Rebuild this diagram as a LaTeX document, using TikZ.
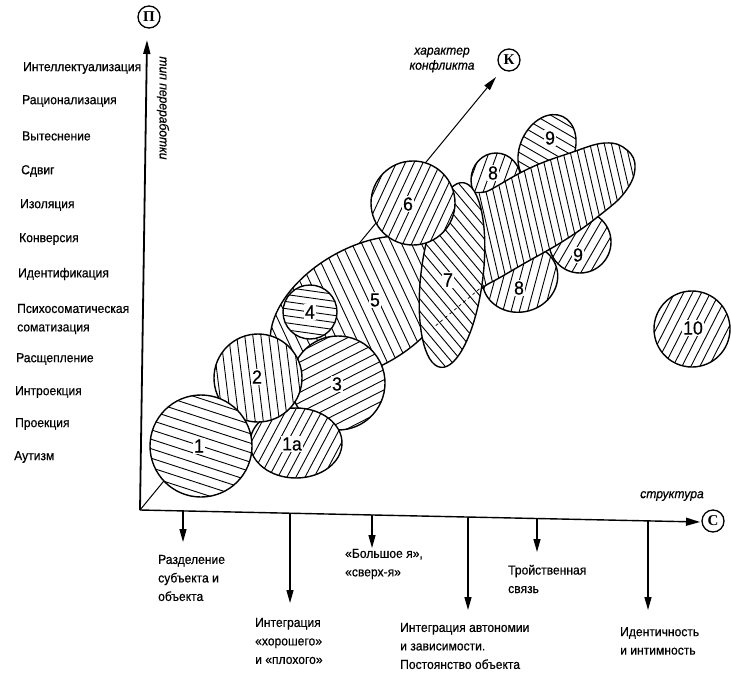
\documentclass[tikz,border=0pt]{standalone}
\usepackage{fontspec}
\setmainfont{Liberation Sans}[FakeStretch=0.93,FakeBold=0.5]
\newfontfamily\circfont{Liberation Serif}
\usetikzlibrary{arrows.meta}
\tikzset{
  lbl/.style={font=\fontsize{13}{18.5}\selectfont, anchor=west, inner sep=0pt, align=left},
  num/.style={font=\fontsize{19}{19}\selectfont, fill=white, inner sep=1pt},
  circlbl/.style={draw, circle, line width=1.3pt, inner sep=0pt, minimum size=22pt, font=\circfont\bfseries\fontsize{15}{15}\selectfont},
  axisarrow/.style={line width=1.8pt, -{Triangle[length=14pt,width=7pt]}},
  haxis/.style={line width=1.4pt, -{Triangle[length=14pt,width=8pt]}},
  kaxis/.style={line width=1pt, -{Triangle[length=14pt,width=7pt]}},
  downarrow/.style={line width=1.3pt, -{Triangle[length=13pt,width=7pt]}},
  hatch/.style={line width=0.9pt},
  outline/.style={line width=1.4pt},
  ital/.style={font=\itshape\fontsize{13}{15}\selectfont, inner sep=0pt, align=center}
}
% #1 transform options, #2 path, #3 centre, #4 hatch angle, #5 spacing, #6 half count
\newcommand\blob[6]{%
  \begin{scope}
    \clip[#1] #2;
    \fill[white] (#3) circle[radius=160];
    \foreach \k in {-#6,...,#6}{%
      \pgfmathsetmacro\hoff{\k*#5}%
      \draw[hatch] (#3) ++(#4+90:\hoff pt) ++(#4:-160pt) -- ++(#4:320pt);}
  \end{scope}
  \draw[outline,#1] #2;
}
\begin{document}
\begin{tikzpicture}[x=1pt,y=-1pt]
\useasboundingbox (0,0) rectangle (731,673);

% axes
\coordinate (O) at (140,510);
\coordinate (Ptip) at (147,40);
\coordinate (Ctip) at (700,522);
\coordinate (Ktip) at (496,77);
\node[circlbl] (P) at (149,17) {П};
\node[circlbl] (K) at (509,60) {К};
\node[circlbl] (C) at (713,521) {С};
\draw[axisarrow] (O) -- (Ptip);
\draw[haxis] (O) -- (Ctip);
\draw[kaxis] (O) -- (Ktip);

\node[ital, rotate=-90] (tp) at (163,108) {тип переработки};
\node[ital] (hk) at (442,60) {характер\\конфликта};
\node[ital] (st) at (672,496) {структура};

% left labels
\node[lbl] (l1) at (23,68) {Интеллектуализация};
\node[lbl] (l2) at (22,101) {Рационализация};
\node[lbl] (l3) at (22,136) {Вытеснение};
\node[lbl] (l4) at (21,171) {Сдвиг};
\node[lbl] (l5) at (20,205) {Изоляция};
\node[lbl] (l6) at (19,239) {Конверсия};
\node[lbl] (l7) at (18,274) {Идентификация};
\node[lbl] (l8) at (17,319) {Психосоматическая\\соматизация};
\node[lbl] (l9) at (16,359) {Расщепление};
\node[lbl] (l10) at (15,392) {Интроекция};
\node[lbl] (l11) at (15,424) {Проекция};
\node[lbl] (l12) at (14,457) {Аутизм};

% down arrows and labels
\coordinate (d1s) at (183,511); \coordinate (d1e) at (183,542);
\coordinate (d2s) at (290,513); \coordinate (d2e) at (290,603);
\coordinate (d3s) at (372,515); \coordinate (d3e) at (372,548);
\coordinate (d4s) at (468,517); \coordinate (d4e) at (468,610);
\coordinate (d5s) at (537,518); \coordinate (d5e) at (537,552);
\coordinate (d6s) at (648,521); \coordinate (d6e) at (648,610);
\foreach \i in {1,...,6} \draw[downarrow] (d\i s) -- (d\i e);
\node[lbl] (b1) at (158,578) {Разделение\\субъекта и\\объекта};
\node[lbl] (b2) at (255,641) {Интеграция\\«хорошего»\\и «плохого»};
\node[lbl] (b3) at (345,564) {«Большое я»,\\«сверх-я»};
\node[lbl] (b4) at (400,646) {Интеграция автономии\\и зависимости.\\Постоянство объекта};
\node[lbl] (b5) at (508,579) {Тройственная\\связь};
\node[lbl] (b6) at (620,641) {Идентичность\\и интимность};

% blobs, back to front
\blob{rotate around={65:(547,150)}}{(547,150) ellipse[x radius=37, y radius=27]}{547,150}{-30}{8}{7}
\blob{}{(580,242) circle[radius=31]}{580,242}{60}{8}{7}
\blob{}{(496,180) ellipse[x radius=25, y radius=27]}{496,180}{70}{8}{6}
\blob{rotate around={15:(520,278)}}{(520,278) ellipse[x radius=38, y radius=34]}{520,278}{75}{8}{7}
\blob{}{plot[smooth cycle,tension=0.7] coordinates {(462,205) (490,190) (530,168) (570,153) (605,143) (627,150) (635,168) (625,192) (600,215) (565,240) (525,263) (488,284) (462,295)}}{550,220}{-77}{7}{16}
\blob{rotate around={30:(362,308)}}{(362,308) ellipse[x radius=100, y radius=60]}{362,308}{-65}{9}{13}
\blob{rotate around={-7:(452,275)}}{(452,275) ellipse[x radius=31, y radius=93]}{452,275}{-50}{8}{14}
\coordinate (s7a) at (484,285); \coordinate (s7b) at (433,328);
\draw[line width=0.7pt, dashed] (s7a) -- (s7b);
\blob{}{(413,203) circle[radius=42]}{413,203}{65}{8}{6}
\blob{}{(338,383) circle[radius=47]}{338,383}{27}{9}{6}
\blob{}{(310,312) circle[radius=27]}{310,312}{-8}{7}{4}
\blob{}{(296,443) ellipse[x radius=46, y radius=35]}{296,443}{62}{8}{6}
\blob{}{(258,378) circle[radius=44]}{258,378}{-83}{8}{6}
\blob{}{(201,446) circle[radius=51]}{201,446}{-18}{9}{6}
\blob{}{(692,329) circle[radius=38]}{692,329}{63}{8}{5}

% numbers
\node[num] (n1) at (199,446) {1};
\node[num] (n1a) at (292,444) {1a};
\node[num] (n2) at (257,377) {2};
\node[num] (n3) at (337,384) {3};
\node[num] (n4) at (310,312) {4};
\node[num] (n5) at (375,300) {5};
\node[num] (n6) at (408,204) {6};
\node[num] (n7) at (448,280) {7};
\node[num] (n8u) at (493,173) {8};
\node[num] (n8l) at (519,288) {8};
\node[num] (n9u) at (550,138) {9};
\node[num] (n9l) at (578,255) {9};
\node[num] (n10) at (693,328) {10};
\end{tikzpicture}
\end{document}
